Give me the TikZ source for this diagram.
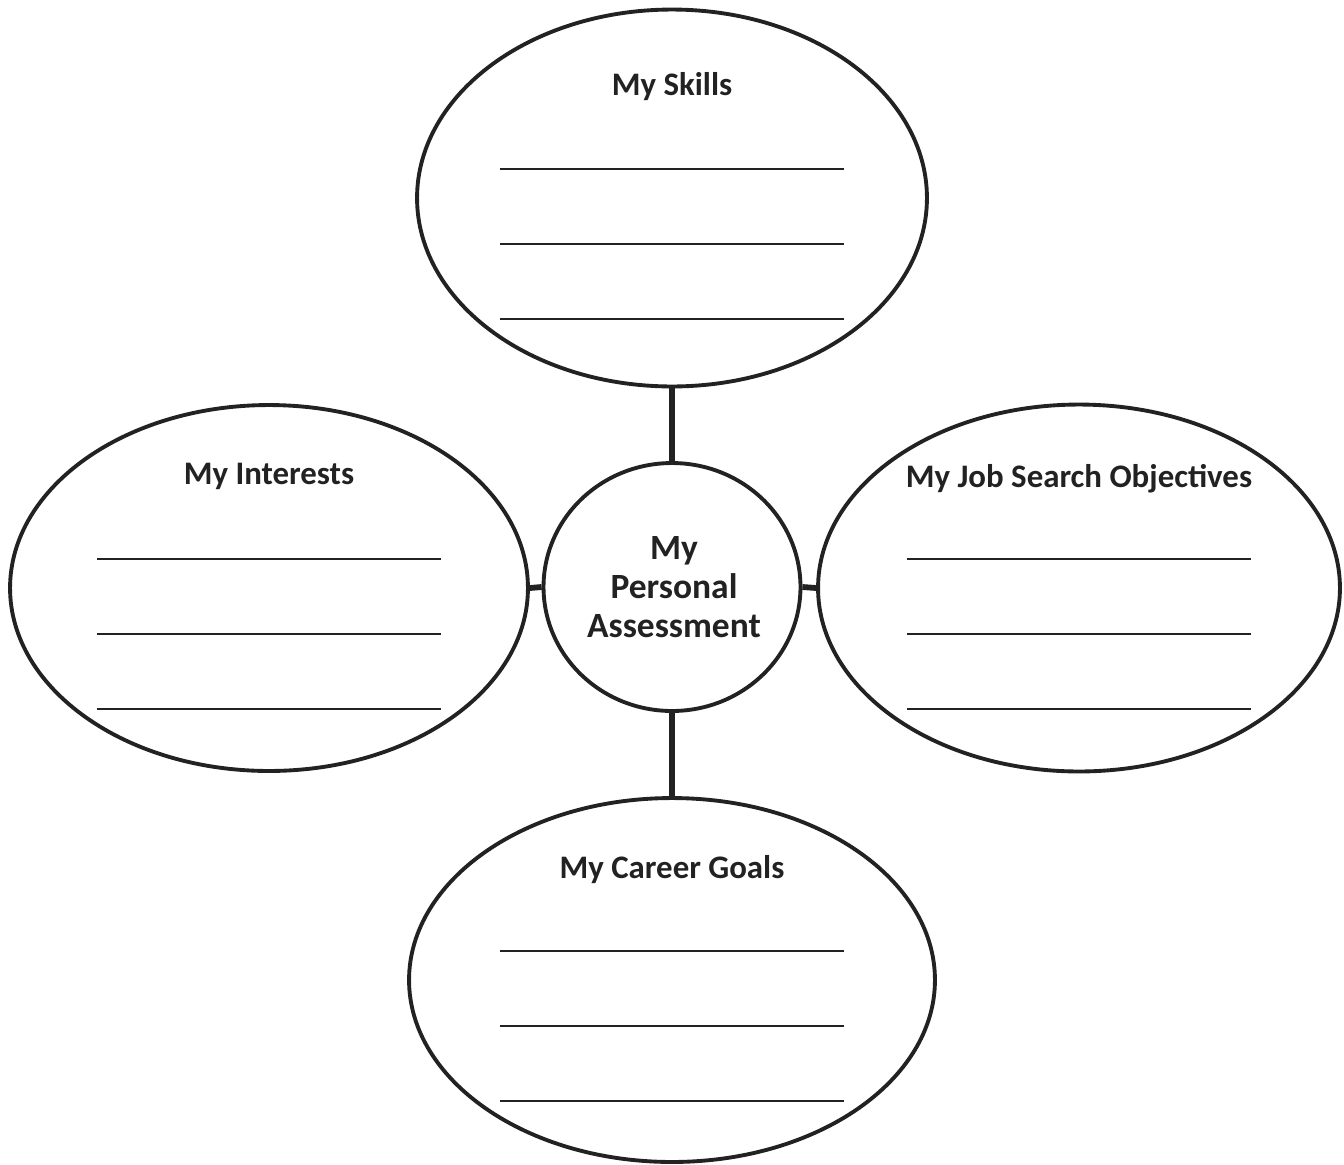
\documentclass[tikz,border=0pt]{standalone}
\usepackage{fontspec}
\setmainfont{Carlito}
\usetikzlibrary{shapes.geometric,calc}
\definecolor{ink}{HTML}{222222}
\tikzset{
  bubble/.style={ellipse,draw=ink,line width=2.2pt,inner sep=0pt},
  heading/.style={text=ink,font=\fontsize{18.7}{22}\selectfont\bfseries,align=center},
  link/.style={draw=ink,line width=3.3pt},
  blank/.style={draw=ink,line width=1.3pt}
}
\begin{document}
\begin{tikzpicture}[x=0.02cm,y=-0.02cm]
\useasboundingbox (0,0) rectangle (1344,1164);
% the four outer bubbles and the hub
\node[bubble,minimum width=10.2cm,minimum height=7.54cm] (skills) at (672,198) {};
\node[bubble,minimum width=10.36cm,minimum height=7.32cm] (interests) at (269,588) {};
\node[bubble,minimum width=10.44cm,minimum height=7.34cm] (objectives) at (1079,588) {};
\node[bubble,minimum width=10.52cm,minimum height=7.28cm] (goals) at (672,980) {};
\node[bubble,minimum width=5.14cm,minimum height=4.96cm] (centre) at (672,587) {};
\node[heading,font=\fontsize{20.2}{22.2}\selectfont\bfseries] (centretext) at ($(centre)+(2,0)$) {My\\Personal\\Assessment};
% headings
\node[heading] (skillstitle) at ($(skills)+(0,-111)$) {My Skills};
\node[heading] (intereststitle) at ($(interests)+(0,-112)$) {My Interests};
\node[heading] (objectivestitle) at ($(objectives)+(0,-109)$) {My Job Search Objectives};
\node[heading] (goalstitle) at ($(goals)+(0,-110)$) {My Career Goals};
% spokes
\draw[link] (skills.south) -- (centre.north);
\draw[link] (centre.south) -- (goals.north);
\draw[link] (interests.east) -- (centre.west);
\draw[link] (centre.east) -- (objectives.west);
% lines to write on
\foreach \b in {skills,interests,objectives,goals}
  \foreach \dy in {-29,46,121}
    \draw[blank] ($(\b)+(-172,\dy)$) -- ++(344,0);
\end{tikzpicture}
\end{document}
